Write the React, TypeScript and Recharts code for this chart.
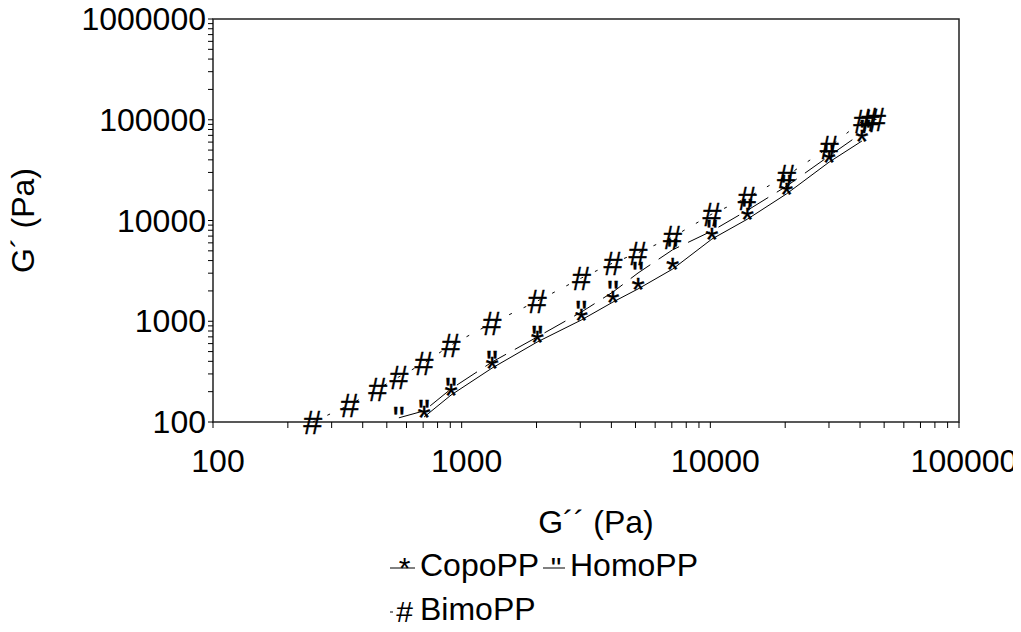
import React from 'react';
import { ScatterChart, Scatter, XAxis, YAxis, ReferenceArea, Label } from 'recharts';

// G'' (x) and G' (y), Pa
const copoG2 = [706, 906, 1325, 2014, 3029, 4060, 5120, 7050, 10150, 14080, 20250, 30050, 40700];
const copoG1 = [112, 185, 343, 623, 1029, 1551, 2093, 3293, 6550, 10300, 18380, 38000, 61500];

const homoG2 = [559, 706, 906, 1325, 2014, 3029, 4060, 5120, 7050, 10150, 14080, 20250, 30050, 42000];
const homoG1 = [110, 129, 213, 394, 698, 1234, 1953, 3013, 5117, 7873, 12600, 21900, 43700, 78000];

const bimoG2 = [252, 355, 460, 559, 706, 906, 1325, 2014, 3029, 4060, 5120, 7050, 10150, 14080, 20250, 30050, 41000, 43800, 46600];
const bimoG1 = [100, 148, 213, 280, 385, 580, 961, 1585, 2687, 3793, 4781, 6848, 11600, 16830, 27700, 53500, 98000, 99500, 101000];

const xTicks = [100, 200, 300, 400, 500, 600, 700, 800, 900, 1000, 2000, 3000, 4000, 5000, 6000, 7000, 8000, 9000, 10000, 20000, 30000, 40000, 50000, 60000, 70000, 80000, 90000, 100000];
const yTicks = [100, 200, 300, 400, 500, 600, 700, 800, 900, 1000, 2000, 3000, 4000, 5000, 6000, 7000, 8000, 9000, 10000, 20000, 30000, 40000, 50000, 60000, 70000, 80000, 90000, 100000, 200000, 300000, 400000, 500000, 600000, 700000, 800000, 900000, 1000000];
const majorTicks = [100, 1000, 10000, 100000, 1000000];

const FONT = '"Liberation Sans", Arial, sans-serif';

const pairs = (xs: number[], ys: number[]) => xs.map((x, i) => ({ x, y: ys[i] }));

const series = [
  { name: 'CopoPP', glyph: '*', dash: undefined as string | undefined, data: pairs(copoG2, copoG1) },
  { name: 'HomoPP', glyph: '"', dash: '24 10', data: pairs(homoG2, homoG1) },
  { name: 'BimoPP', glyph: '#', dash: '3 13', data: pairs(bimoG2, bimoG1) },
];

const glyphShape = (ch: string) => (props: any) => (
  <text x={props.cx} y={props.cy + 12} textAnchor="middle" fontSize={34} fontFamily={FONT} fill="#000" stroke="#000" strokeWidth={0.3}>
    {ch}
  </text>
);

const XTick = ({ x, y, payload }: any) =>
  majorTicks.includes(payload.value) ? (
    <text x={x + 5} y={y + 44} textAnchor="middle" fontSize={32} fontFamily={FONT} fill="#000">
      {payload.value}
    </text>
  ) : <g />;

const YTick = ({ x, y, payload }: any) =>
  majorTicks.includes(payload.value) ? (
    <text x={x} y={y + 11} textAnchor="end" fontSize={32} fontFamily={FONT} fill="#000">
      {payload.value}
    </text>
  ) : <g />;

const XTitle = ({ viewBox }: any) => (
  <text x={viewBox.x + viewBox.width / 2 + 10} y={viewBox.y + 111} textAnchor="middle" fontSize={32} fontFamily={FONT} fill="#000">
    G´´ (Pa)
  </text>
);

const YTitle = ({ viewBox }: any) => {
  const cx = viewBox.x + 26;
  const cy = viewBox.y + viewBox.height / 2;
  return (
    <text x={cx} y={cy} transform={`rotate(-90, ${cx}, ${cy})`} textAnchor="middle" fontSize={32} fontFamily={FONT} fill="#000">
      G´ (Pa)
    </text>
  );
};

const LegendBox = () => {
  // two rows: Copo + Homo, then Bimo
  const items = [
    { s: series[0], x: 382, y: 568, w: 25 },
    { s: series[1], x: 535, y: 568, w: 22 },
    { s: series[2], x: 382, y: 612, w: 25 },
  ];
  return (
    <svg width={700} height={80} style={{ position: 'absolute', left: 0, top: 0, overflow: 'visible', pointerEvents: 'none' }}>
      {items.map((it, i) => (
        <g key={i}>
          <line x1={it.x} x2={it.x + it.w} y1={it.y - 8} y2={it.y - 8} stroke="#000" strokeWidth={1} strokeDasharray={it.s.dash} />
          <text x={it.x + it.w / 2 + 2} y={it.y + 2} textAnchor="middle" fontSize={30} fontFamily={FONT} fill="#000">{it.s.glyph}</text>
          <text x={it.x + it.w + 5} y={it.y} fontSize={32} fontFamily={FONT} fill="#000">{it.s.name}</text>
        </g>
      ))}
    </svg>
  );
};

export default function App() {
  return (
    <div style={{ position: 'relative', width: 1013, height: 620 }}>
      <ScatterChart width={1013} height={620} margin={{ top: 11, right: 62, bottom: 146, left: 0 }}>
        <XAxis
          type="number"
          dataKey="x"
          scale="log"
          domain={[100, 100000]}
          ticks={xTicks}
          interval={0}
          tick={<XTick />}
          tickSize={6}
          tickMargin={0}
          tickLine={{ stroke: '#000' }}
          axisLine={false}
          height={60}
        >
          <Label content={<XTitle />} />
        </XAxis>
        <YAxis
          type="number"
          dataKey="y"
          scale="log"
          domain={[100, 1000000]}
          ticks={yTicks}
          interval={0}
          tick={<YTick />}
          tickSize={5}
          tickMargin={2}
          tickLine={{ stroke: '#000' }}
          axisLine={false}
          width={205}
        >
          <Label content={<YTitle />} />
        </YAxis>
        <ReferenceArea x1={100} x2={100000} y1={100} y2={1000000} fill="none" fillOpacity={0} stroke="#222" strokeWidth={1.5} />
        {series.map((s) => (
          <Scatter
            key={s.name}
            name={s.name}
            data={s.data}
            line={{ stroke: '#000', strokeWidth: 1, strokeDasharray: s.dash }}
            lineType="joint"
            shape={glyphShape(s.glyph)}
            isAnimationActive={false}
          />
        ))}
      </ScatterChart>
      <LegendBox />
    </div>
  );
}
